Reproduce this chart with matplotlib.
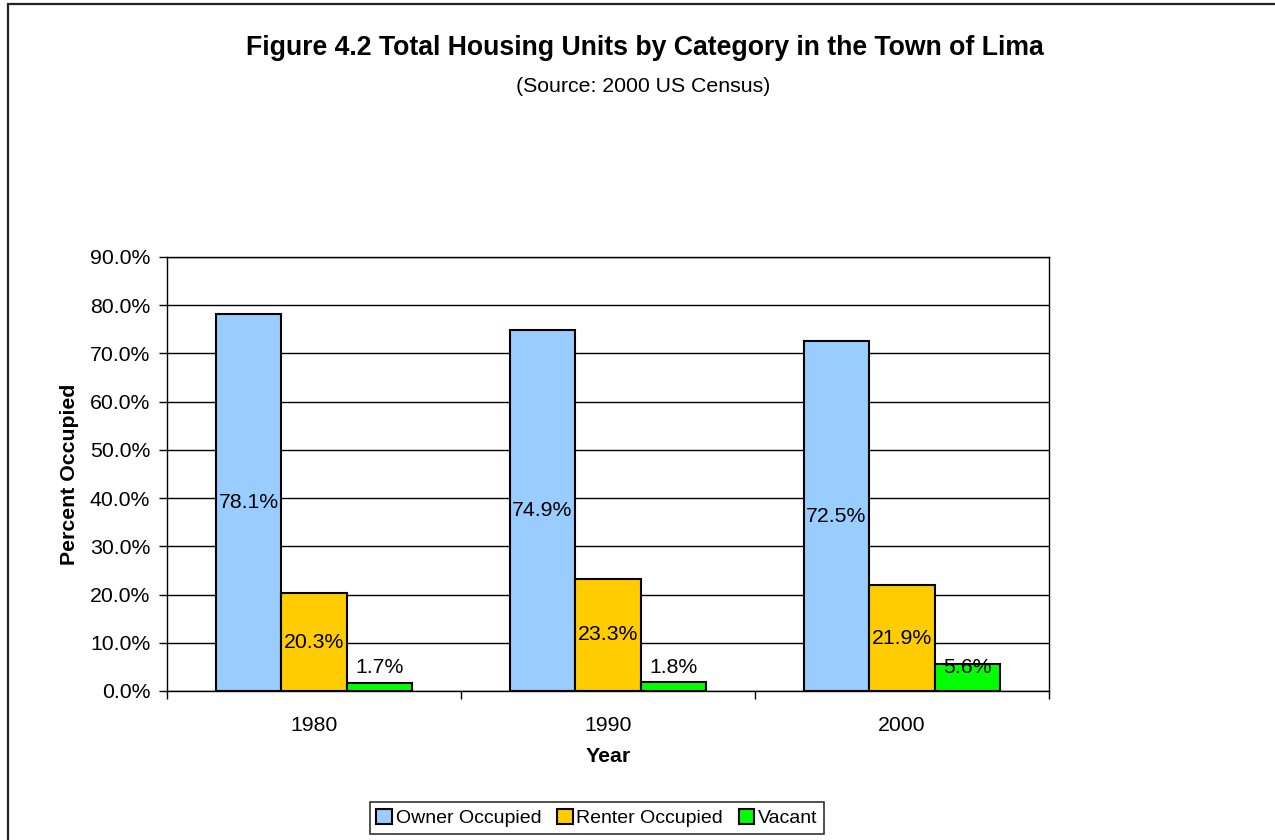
import numpy as np
import matplotlib
matplotlib.use("Agg")
import matplotlib.pyplot as plt
from matplotlib.patches import Rectangle

plt.rcParams['font.family'] = ['Liberation Sans', 'DejaVu Sans']

# Data
years = ['1980', '1990', '2000']
owner = [78.1, 74.9, 72.5]
renter = [20.3, 23.3, 21.9]
vacant = [1.7, 1.8, 5.6]
series_names = ['Owner Occupied', 'Renter Occupied', 'Vacant']
colors = ['#99CCFF', '#FFCC00', '#00FF00']

fs = 15.3

fig = plt.figure(figsize=(12.75, 8.4), dpi=100)
ax = fig.add_axes([167/1275, 1-691/840, (1049-167)/1275, (691-257)/840])

# outer chart frame (left and top edges visible)
fig.patches.append(Rectangle((8/1275, -0.1), 1.2, 1.1 - 4/840, transform=fig.transFigure,
                             fill=False, edgecolor='#222222', linewidth=1.6))

x = np.arange(len(years))
w = 0.223
bars = []
for i, (vals, name, c) in enumerate(zip([owner, renter, vacant], series_names, colors)):
    b = ax.bar(x + (i - 1) * w, vals, w, color=c, edgecolor='black', linewidth=1.5,
               label=name, zorder=3)
    bars.append(b)

# data labels
for rect, v in zip(bars[0], owner):
    ax.text(rect.get_x() + rect.get_width()/2, v/2, f'{v:.1f}%', ha='center', va='center',
            fontsize=fs, zorder=4)
for rect, v in zip(bars[1], renter):
    ax.text(rect.get_x() + rect.get_width()/2, v/2, f'{v:.1f}%', ha='center', va='center',
            fontsize=fs, zorder=4)
for rect, v in zip(bars[2], vacant):
    ax.text(rect.get_x() + rect.get_width()/2, 4.9, f'{v:.1f}%', ha='center', va='center',
            fontsize=fs, zorder=4)

ax.set_xlim(-0.5, 2.5)
ax.set_ylim(0, 90)
ax.set_yticks(np.arange(0, 91, 10))
ax.set_yticklabels([f'{t:.1f}%' for t in np.arange(0, 91, 10)], fontsize=fs)
ax.yaxis.grid(True, color='black', linewidth=1.0, zorder=0)
ax.set_xticks(x)
ax.set_xticklabels(years, fontsize=fs)
ax.tick_params(axis='x', length=0, pad=18)
ax.set_xticks([-0.5, 0.5, 1.5, 2.5], minor=True)
ax.tick_params(axis='x', which='minor', length=6, width=1, direction='out')
ax.tick_params(axis='y', length=6, width=1, direction='out', pad=6)
for s in ax.spines.values():
    s.set_linewidth(1.0)
    s.set_color('black')

ax.set_xlabel('Year', fontsize=fs, fontweight='bold', labelpad=9)
ax.set_ylabel('Percent Occupied', fontsize=fs, fontweight='bold', labelpad=8)

fig.text(645/1275, 1-48/840, 'Figure 4.2 Total Housing Units by Category in the Town of Lima',
         ha='center', va='center', fontsize=19.2, fontweight='bold')
fig.text(643/1275, 1-87/840, '(Source: 2000 US Census)', ha='center', va='center', fontsize=fs)

leg = fig.legend(loc='center', bbox_to_anchor=(597/1275, 1-818/840), ncol=3, fontsize=14,
                 frameon=True, fancybox=False, edgecolor='black', handlelength=0.8,
                 handleheight=0.8, handletextpad=0.2, columnspacing=0.8, borderpad=0.35)
leg.get_frame().set_linewidth(1.2)

fig.savefig('out.png', dpi=100, facecolor='white')
